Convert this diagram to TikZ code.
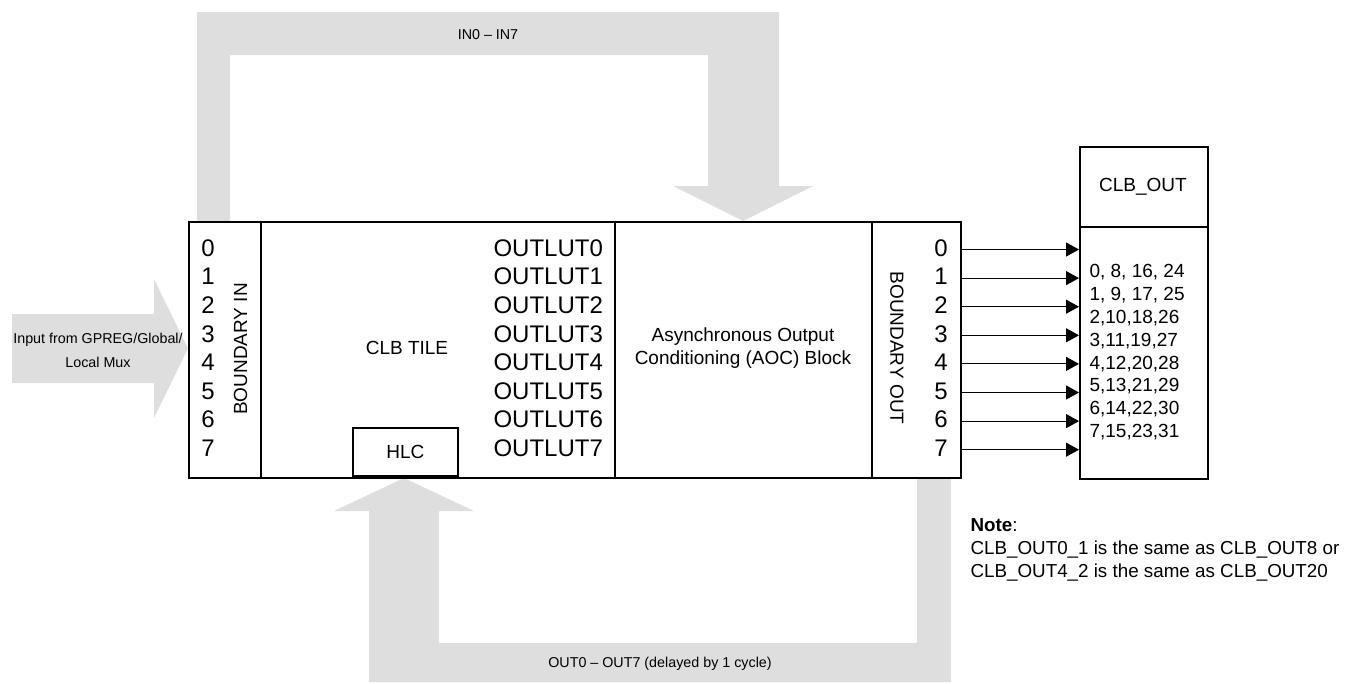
\documentclass[tikz,border=0pt]{standalone}
\usepackage{fontspec}
\setmainfont{Liberation Sans}
\usetikzlibrary{arrows.meta}
\definecolor{bandgray}{HTML}{DEDEDE}

\begin{document}
\begin{tikzpicture}[x=1pt, y=-1pt, band/.style={fill=bandgray, draw=none}, box/.style={draw, line width=1.6pt}, wire/.style={-{Triangle[length=13pt, width=14pt]}, line width=1.1pt}, big/.style={font=\fontsize{24}{28.6}\selectfont}, mid/.style={font=\fontsize{19}{22.5}\selectfont}, small/.style={font=\fontsize{14.3}{24}\selectfont}]
\useasboundingbox (0,0) rectangle (1346,683);

% wide grey arrows
\fill[band] (197,221) -- (197,12) -- (779,12) -- (779,186) -- (813,186) -- (743,221) -- (673,186) -- (708,186) -- (708,55) -- (230,55) -- (230,221) -- cycle;
\fill[band] (917,478) -- (951,478) -- (951,682) -- (369,682) -- (369,511) -- (334,511) -- (404,478) -- (474,511) -- (439,511) -- (439,643) -- (917,643) -- cycle;
\fill[band] (12,314) -- (154,314) -- (154,279) -- (188,348.5) -- (154,418) -- (154,383) -- (12,383) -- cycle;
\node[small] (fb) at (488,35) {IN0 -- IN7}; \node[small] (dly) at (660,664) {OUT0 -- OUT7 (delayed by 1 cycle)};
\node[small, align=center] (src) at (98,350) {Input from GPREG/Global/\\Local Mux};

% CLB block
\node[box, minimum width=772, minimum height=256, anchor=north west] (clb) at (188,221) {};
\draw[box] (261,221) -- (261,477) (615,221) -- (615,477) (872,221) -- (872,477);
\node[mid, rotate=90] (bin) at (240.5,349) {BOUNDARY IN}; \node[mid, rotate=-90] (bout) at (897,348) {BOUNDARY OUT};
\node[mid] (tile) at (407,348) {CLB TILE}; \node[mid, align=center] (aoc) at (743,348) {Asynchronous Output\\Conditioning (AOC) Block};
\node[box, mid, minimum width=105, minimum height=48, anchor=south west] (hlc) at (352,477) {HLC};
\foreach \i in {0,...,7} {\node[big] (l\i) at (208,248+28.6*\i) {\i}; \node[big, anchor=west] (o\i) at (490,248+28.6*\i) {OUTLUT\i}; \node[big] (r\i) at (941,248+28.6*\i) {\i};}

% CLB_OUT
\node[box, minimum width=128, minimum height=332, anchor=north west] (clbout) at (1079,146) {}; \draw[box] (1079,227) -- (1207,227);
\node[mid] (head) at (1143,187) {CLB\_OUT};
\foreach \t [count=\i from 0] in {{0, 8, 16, 24},{1, 9, 17, 25},{2,10,18,26},{3,11,19,27},{4,12,20,28},{5,13,21,29},{6,14,22,30},{7,15,23,31}} \node[mid, anchor=west] (m\i) at (1086,272+22.9*\i) {\t};
\foreach \i in {0,...,7} \draw[wire] ([yshift=-1.5pt]r\i -| clb.east) -- ([yshift=-1.5pt]r\i -| clbout.west);

\node[font=\fontsize{18.8}{23}\selectfont, align=left, anchor=west] (note) at (967,550) {\textbf{Note}:\\CLB\_OUT0\_1 is the same as CLB\_OUT8 or\\CLB\_OUT4\_2 is the same as CLB\_OUT20};
\end{tikzpicture}
\end{document}
